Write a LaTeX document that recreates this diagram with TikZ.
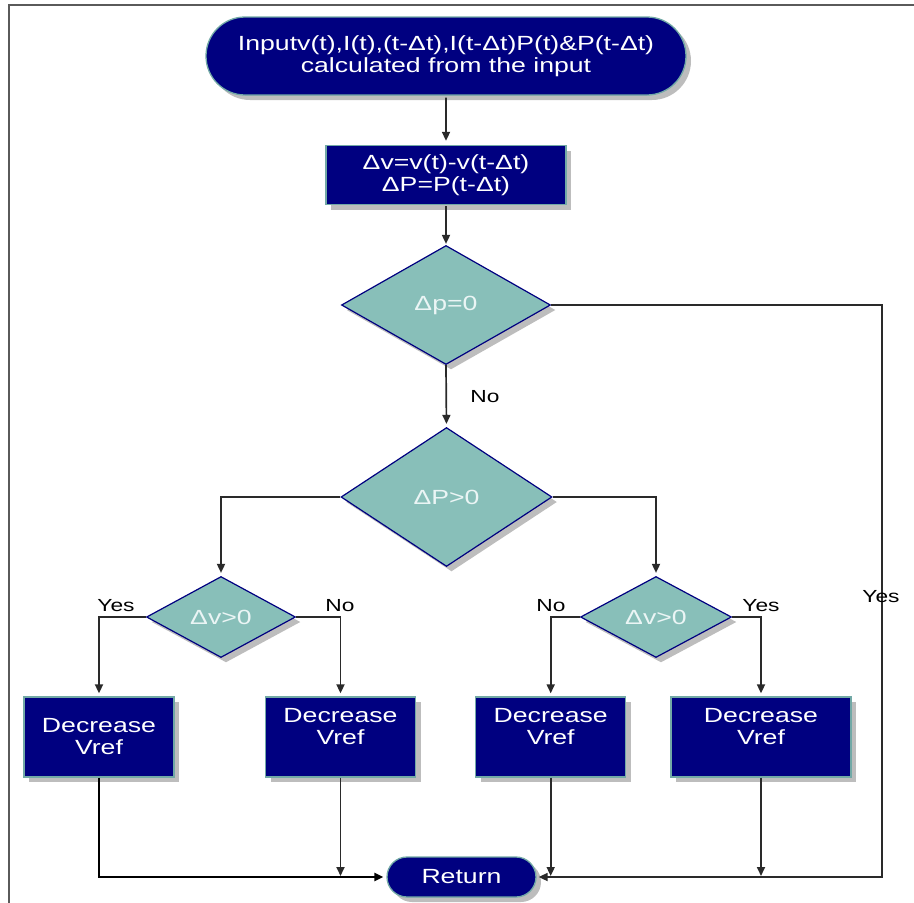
\documentclass[tikz,border=0pt]{standalone}
\usepackage{fontspec}
\setmainfont{Liberation Sans}[FakeStretch=1.3]
\usetikzlibrary{arrows.meta,shapes.geometric,shapes.misc,shadows}
\definecolor{navy}{HTML}{000080}
\definecolor{tealfill}{HTML}{88BFB9}
\definecolor{rimcol}{HTML}{72A9A6}
\definecolor{shadowcol}{HTML}{BDBDBD}
\definecolor{framecol}{HTML}{5A5A5A}
\definecolor{linecol}{HTML}{2A2A2A}
\tikzset{
  shad/.style={drop shadow={shadow xshift=5pt, shadow yshift=-5pt, fill=shadowcol, opacity=1}},
  term/.style={rounded rectangle, shad, fill=navy, draw=rimcol, line width=1.3pt, text=white, align=center, inner sep=0pt,
    font=\fontsize{20.5}{22}\selectfont},
  procbox/.style={rectangle, shad, fill=navy, draw=rimcol, line width=1.3pt, text=white, align=center, inner sep=0pt,
    font=\fontsize{20.5}{22}\selectfont},
  decide/.style={diamond, shad, fill=tealfill, draw=navy, line width=1.2pt, text=white!92!teal, inner sep=0pt, aspect=1.8,
    font=\fontsize{20.5}{22}\selectfont},
  lbl/.style={font=\fontsize{17.5}{19}\selectfont, text=black, inner sep=0pt},
  conn/.style={draw=linecol, line width=1.7pt},
  arr/.style={conn, -{Triangle[length=9pt,width=8pt]}},
}
\begin{document}
\begin{tikzpicture}[x=1pt,y=-1pt]
\useasboundingbox (0,0) rectangle (914,903);
\draw[framecol, line width=1.8pt] (9,903) -- (9,5) -- (914,5);

\node[term, minimum width=480pt, minimum height=78pt] (start) at (446,56)
  {Inputv(t),I(t),(t-Δt),I(t-Δt)P(t)\&P(t-Δt)\\calculated from the input};
\node[procbox, minimum width=240pt, minimum height=59pt] (calc) at (446,175)
  {Δv=v(t)-v(t-Δt)\\ΔP=P(t-Δt)};
\node[decide, minimum width=209pt, minimum height=119pt] (d1) at (446,305) {Δp=0};
\node[decide, minimum width=211pt, minimum height=139pt] (d2) at (446.5,497) {ΔP>0};
\node[decide, minimum width=149pt, minimum height=81pt] (d3) at (221,617) {Δv>0};
\node[decide, minimum width=151pt, minimum height=81pt] (d4) at (656,617) {Δv>0};

\node[procbox, minimum width=150pt, minimum height=80pt] (bA) at (99,737) {Decrease\\Vref};
\node[procbox, minimum width=150pt, minimum height=80pt] (bB) at (340.5,737) {Decrease\\Vref\\~};
\node[procbox, minimum width=150pt, minimum height=80pt] (bC) at (550.7,737) {Decrease\\Vref\\~};
\node[procbox, minimum width=180pt, minimum height=80pt] (bD) at (761,737) {Decrease\\Vref\\~};

\node[term, minimum width=149pt, minimum height=40pt] (ret) at (461.5,877) {Return};

% connectors
\draw[arr, shorten <=2pt, shorten >=4pt] (start) -- (calc);
\draw[arr, shorten <=1pt, shorten >=1pt] (calc) -- (d1);
\draw[arr, shorten >=3pt] (d1.south) -- (d2.north);
\node[lbl] (no1) at (485,397) {No};

\coordinate (rtop) at (882,305);
\coordinate (rbot) at (882,877);
\draw[arr, shorten >=2pt] (d1.east) -- (rtop) -- (rbot) -- (ret.east);
\node[lbl] (yes0) at (881,597) {Yes};

\draw[arr, shorten >=3pt] (d2.west) -| (d3.north);
\draw[arr, shorten >=3pt] (d2.east) -| (d4.north);

\draw[arr, shorten >=3pt] (d3.west) -| (bA.north);
\draw[arr, shorten >=3pt] (d3.east) -| (bB.north);
\draw[arr, shorten >=3pt] (d4.west) -| (bC.north);
\draw[arr, shorten >=3pt] (d4.east) -| (bD.north);
\node[lbl] (yes1) at (116,606) {Yes};
\node[lbl] (no2) at (340,606) {No};
\node[lbl] (no3) at (551,606) {No};
\node[lbl] (yes2) at (761,606) {Yes};

\draw[arr, line width=2.3pt, draw=black, shorten >=3pt] (bA.south) |- (ret.west);
\coordinate (jB) at (bB.south |- ret.west);
\coordinate (jC) at (bC.south |- ret.west);
\coordinate (jD) at (bD.south |- ret.west);
\draw[arr, shorten >=1pt] (bB.south) -- (jB);
\draw[arr, shorten >=1pt] (bC.south) -- (jC);
\draw[arr, shorten >=1pt] (bD.south) -- (jD);
\end{tikzpicture}
\end{document}
